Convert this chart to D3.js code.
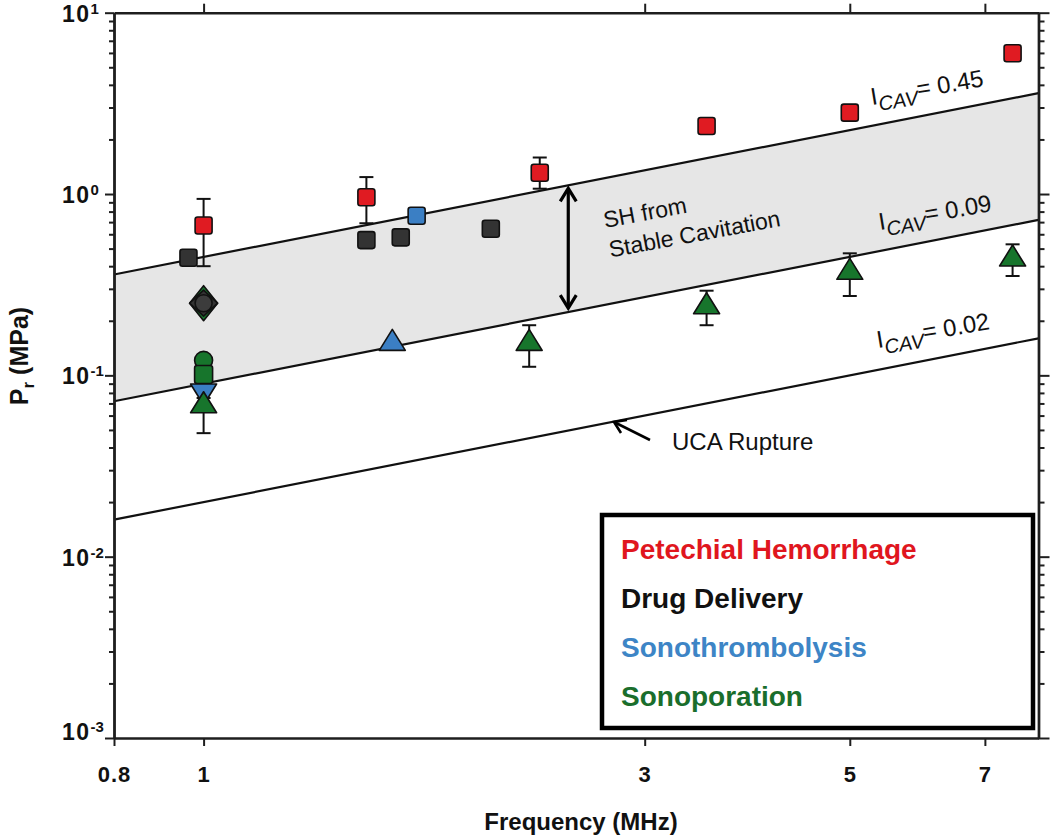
<!DOCTYPE html>
<html><head><meta charset="utf-8">
<script src="https://cdn.jsdelivr.net/npm/d3@7"></script>
<style>
body{margin:0;background:#fff;}
svg{display:block;font-family:"Liberation Sans",Arial,Helvetica,sans-serif;}
</style></head>
<body><svg id="chart" width="1050" height="839"></svg>
<script>
// ---------------- DATA ----------------
const xTicks = [0.8, 1, 3, 5, 7];
const xTopTicks = [1, 3, 5, 7];
const yMajor = [0.001, 0.01, 0.1, 1, 10];
const yExponents = ["-3", "-2", "-1", "0", "1"];
const icavLevels = [0.45, 0.09, 0.02];          // P (MPa) at 1 MHz for each I_CAV line
const icavLabels = ["0.45", "0.09", "0.02"];
const categories = ["Petechial Hemorrhage", "Drug Delivery", "Sonothrombolysis", "Sonoporation"];
const catColors = ["#e0161e", "#111111", "#3d85c6", "#1a6e2c"];
const markerFill = {"Petechial Hemorrhage":"#e01b22","Drug Delivery":"#333333","Sonothrombolysis":"#3b7fc4","Sonoporation":"#17752c"};

// Petechial Hemorrhage (red squares)
const petechialF  = [1.0, 1.5, 2.31, 3.5, 5.0, 7.5];
const petechialP  = [0.67, 0.96, 1.31, 2.37, 2.81, 5.97];
const petechialLo = [0.40, 0.69, 1.07, null, null, null];
const petechialHi = [0.94, 1.24, 1.59, null, null, null];
// Drug Delivery (dark squares, diamond, circle)
const drugF = [0.963, 1.5, 1.634, 2.045];
const drugP = [0.445, 0.557, 0.577, 0.644];
const drugDiamondF = [1.0], drugDiamondP = [0.25];
const drugCircleF = [1.0], drugCircleP = [0.25];
// Sonothrombolysis (blue)
const sonoThSquareF = [1.70], sonoThSquareP = [0.759];
const sonoThTriF = [1.60], sonoThTriP = [0.150];
const sonoThDownF = [1.0], sonoThDownP = [0.082];
// Sonoporation (green)
const sonoporTriF  = [1.0, 2.25, 3.5, 5.0, 7.5];
const sonoporTriP  = [0.068, 0.150, 0.239, 0.37, 0.438];
const sonoporTriLo = [0.048, 0.1115, 0.189, 0.274, 0.353];
const sonoporTriHi = [0.075, 0.189, 0.293, 0.471, 0.528];
const sonoporCircleF = [1.0], sonoporCircleP = [0.121];
const sonoporSquareF = [1.0], sonoporSquareP = [0.101];
const sonoporDiamondF = [1.0], sonoporDiamondP = [0.25];
// Double arrow frequency
const arrowF = [2.48];

// ---------------- SCALES ----------------
const svg = d3.select("#chart");
const L = 114, R = 1038.5, T = 12.7, B = 738;
const x = d3.scaleLog().domain([0.8, 8]).range([L, R]);
const y = d3.scaleLog().domain([0.001, 10]).range([B, T]);
const AX = "#1e1e1e";

// gray band between I_CAV 0.45 and 0.09
const fEnds = x.domain();
const band = d3.area().x(d => x(d)).y0(d => y(icavLevels[1]*d)).y1(d => y(icavLevels[0]*d));
svg.append("path").datum(fEnds).attr("d", band).attr("fill", "#e6e6e6");

// I_CAV lines
icavLevels.forEach(k => {
  svg.append("path").datum(fEnds)
    .attr("d", d3.line().x(d => x(d)).y(d => y(k*d)))
    .attr("fill","none").attr("stroke","#111").attr("stroke-width",2.2);
});

// ---------------- AXES ----------------
const minor = [];
for (let e = -3; e < 1; e++) for (let m = 2; m <= 9; m++) minor.push(m*Math.pow(10,e));

function styleAxis(g){
  g.selectAll("path.domain").attr("stroke", AX).attr("stroke-width", 2.4);
  g.selectAll(".tick line").attr("stroke", AX).attr("stroke-width", 2);
}
// bottom
const gb = svg.append("g").attr("transform", `translate(0,${B})`)
  .call(d3.axisBottom(x).tickValues(xTicks).tickSize(8).tickSizeOuter(0).tickPadding(20)
    .tickFormat(d => String(d)));
styleAxis(gb);
gb.selectAll(".tick text").attr("font-size", 22).attr("font-weight", "bold").attr("fill","#111")
  .attr("font-family","Liberation Sans, Arial").attr("letter-spacing", 1);
// top
const gt = svg.append("g").attr("transform", `translate(0,${T})`)
  .call(d3.axisTop(x).tickValues(xTopTicks).tickSize(9).tickSizeOuter(0).tickFormat(""));
styleAxis(gt);
// left major + minor
const gl = svg.append("g").attr("transform", `translate(${L},0)`)
  .call(d3.axisLeft(y).tickValues(yMajor).tickSize(9).tickSizeOuter(0).tickFormat(""));
styleAxis(gl);
const glm = svg.append("g").attr("transform", `translate(${L},0)`)
  .call(d3.axisLeft(y).tickValues(minor).tickSize(5).tickSizeOuter(0).tickFormat(""));
styleAxis(glm);
// right major + minor
const gr = svg.append("g").attr("transform", `translate(${R},0)`)
  .call(d3.axisRight(y).tickValues(yMajor).tickSize(11).tickSizeOuter(0).tickFormat(""));
styleAxis(gr);
const grm = svg.append("g").attr("transform", `translate(${R},0)`)
  .call(d3.axisRight(y).tickValues(minor).tickSize(6).tickSizeOuter(0).tickFormat(""));
styleAxis(grm);

// y tick labels 10^n
yMajor.forEach((v,i) => {
  const t = svg.append("text").attr("x", 62).attr("y", Math.min(y(v) + 9, B + 2))
    .attr("font-size", 23).attr("font-weight", "bold").attr("fill", "#111").attr("letter-spacing", 1.5);
  t.append("tspan").text("10");
  t.append("tspan").attr("dy", -8).attr("font-size", 15).attr("letter-spacing", 0).text(yExponents[i]);
});

// axis titles
svg.append("text").attr("x", 581).attr("y", 830).attr("text-anchor","middle")
  .attr("font-size", 24).attr("font-weight","bold").attr("fill","#111").text("Frequency (MHz)");
const yt = svg.append("text").attr("transform","translate(28,356) rotate(-90)").attr("text-anchor","middle")
  .attr("font-size", 25).attr("font-weight","bold").attr("fill","#111");
yt.append("tspan").text("P");
yt.append("tspan").attr("font-size",17).attr("dy",6).text("r");
yt.append("tspan").attr("dy",-6).text(" (MPa)");

// ---------------- ANNOTATIONS ----------------
// double arrow
const ax0 = x(arrowF[0]), ayTop = y(icavLevels[0]*arrowF[0]) + 2, ayBot = y(icavLevels[1]*arrowF[0]) - 3;
svg.append("line").attr("x1",ax0).attr("x2",ax0).attr("y1",ayTop+2).attr("y2",ayBot-2)
  .attr("stroke","#000").attr("stroke-width",3.2);
svg.append("path").attr("d",`M${ax0-8},${ayTop+14}L${ax0},${ayTop+1}L${ax0+8},${ayTop+14}`)
  .attr("fill","none").attr("stroke","#000").attr("stroke-width",3.2).attr("stroke-linejoin","miter");
svg.append("path").attr("d",`M${ax0-8},${ayBot-14}L${ax0},${ayBot-1}L${ax0+8},${ayBot-14}`)
  .attr("fill","none").attr("stroke","#000").attr("stroke-width",3.2);

// SH from Stable Cavitation
const sh = svg.append("g").attr("transform","translate(605,228) rotate(-10.5)");
sh.append("text").attr("x",0).attr("y",0).attr("font-size",23).attr("fill","#111").text("SH from");
sh.append("text").attr("x",0).attr("y",30).attr("font-size",23).attr("fill","#111").text("Stable Cavitation");

// I_CAV labels
const icavPos = [[872,105],[880,230],[878,348]];
icavLevels.forEach((k,i) => {
  const g = svg.append("g").attr("transform",`translate(${icavPos[i][0]},${icavPos[i][1]}) rotate(-9.5)`);
  const t = g.append("text").attr("font-size",24).attr("fill","#111");
  t.append("tspan").text("I");
  t.append("tspan").attr("dy",7).attr("font-size",20).attr("font-style","italic").text("CAV");
  t.append("tspan").attr("dy",-7).text("= " + icavLabels[i]);
});

// UCA Rupture
svg.append("text").attr("x",672).attr("y",450).attr("font-size",24).attr("fill","#111").text("UCA Rupture");
svg.append("line").attr("x1",650).attr("y1",440).attr("x2",615).attr("y2",422.5)
  .attr("stroke","#000").attr("stroke-width",2.6);
svg.append("path").attr("d","M627,420 L614,422 L621,433").attr("fill","none").attr("stroke","#000").attr("stroke-width",2.6);

// ---------------- MARKERS ----------------
const SQ = 17;
function errbar(f, lo, hi){
  if (lo == null) return;
  const cx = x(f);
  svg.append("line").attr("x1",cx).attr("x2",cx).attr("y1",y(lo)).attr("y2",y(hi)).attr("stroke","#111").attr("stroke-width",2);
  [lo,hi].forEach(v => svg.append("line").attr("x1",cx-7).attr("x2",cx+7).attr("y1",y(v)).attr("y2",y(v))
    .attr("stroke","#111").attr("stroke-width",2));
}
function square(f,p,fill,s){
  s = s||SQ;
  svg.append("rect").attr("x",x(f)-s/2).attr("y",y(p)-s/2).attr("width",s).attr("height",s).attr("rx",2.5)
    .attr("fill",fill).attr("stroke","#111").attr("stroke-width",1.6);
}
function tri(f,p,fill,down){
  const cx = x(f), cy = y(p), w = 26, h = 21, s = down ? -1 : 1;
  svg.append("path").attr("d",`M${cx},${cy - s*h*2/3}L${cx+w/2},${cy + s*h/3}L${cx-w/2},${cy + s*h/3}Z`)
    .attr("fill",fill).attr("stroke","#111").attr("stroke-width",1.6).attr("stroke-linejoin","round");
}
function circle(f,p,fill,r){
  svg.append("circle").attr("cx",x(f)).attr("cy",y(p)).attr("r",r||9).attr("fill",fill).attr("stroke","#111").attr("stroke-width",1.6);
}
function diamond(f,p,fill,hw,hh){
  const cx=x(f), cy=y(p);
  svg.append("path").attr("d",`M${cx},${cy-hh}L${cx+hw},${cy}L${cx},${cy+hh}L${cx-hw},${cy}Z`)
    .attr("fill",fill).attr("stroke","#111").attr("stroke-width",1.6).attr("stroke-linejoin","round");
}
const red = markerFill[categories[0]], blk = markerFill[categories[1]], blu = markerFill[categories[2]], grn = markerFill[categories[3]];

// error bars first
petechialF.forEach((f,i) => errbar(f, petechialLo[i], petechialHi[i]));
sonoporTriF.forEach((f,i) => errbar(f, sonoporTriLo[i], sonoporTriHi[i]));

// drug delivery squares
drugF.forEach((f,i) => square(f, drugP[i], blk));
// petechial
petechialF.forEach((f,i) => square(f, petechialP[i], red));
// sonothrombolysis
sonoThSquareF.forEach((f,i) => square(f, sonoThSquareP[i], blu));
sonoThTriF.forEach((f,i) => tri(f, sonoThTriP[i], blu, false));
// f=1 cluster
sonoporDiamondF.forEach((f,i) => diamond(f, sonoporDiamondP[i], grn, 14, 17.5));
drugDiamondF.forEach((f,i) => diamond(f, drugDiamondP[i], blk, 14, 13));
drugCircleF.forEach((f,i) => circle(f, drugCircleP[i], "#3c3c3c", 8.5));
sonoporCircleF.forEach((f,i) => circle(f, sonoporCircleP[i], grn, 9));
sonoporSquareF.forEach((f,i) => square(f, sonoporSquareP[i], grn, 18));
sonoThDownF.forEach((f,i) => tri(f, sonoThDownP[i], blu, true));
sonoporTriF.forEach((f,i) => tri(f, sonoporTriP[i], grn, false));

// ---------------- LEGEND ----------------
svg.append("rect").attr("x",602).attr("y",515).attr("width",431).attr("height",213)
  .attr("fill","#fff").attr("stroke","#000").attr("stroke-width",4.5);
const legY = [559, 608, 657, 706];
categories.forEach((c,i) => {
  svg.append("text").attr("x",621).attr("y",legY[i]).attr("font-size",28).attr("font-weight","bold")
    .attr("fill",catColors[i]).text(c);
});
</script></body></html>
